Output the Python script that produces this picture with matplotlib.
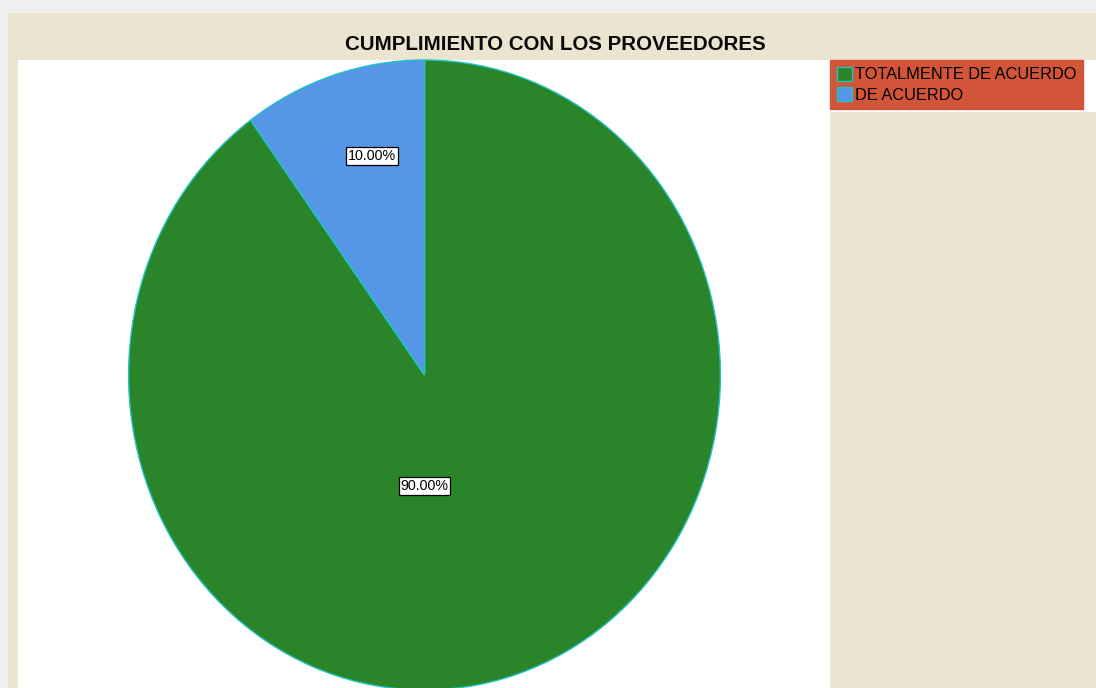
import matplotlib.pyplot as plt
from matplotlib.patches import Rectangle

# data
categorias = ['TOTALMENTE DE ACUERDO', 'DE ACUERDO']
porcentajes = [90.0, 10.0]
colores = ['#2A852A', '#5596E6']
titulo = 'CUMPLIMIENTO CON LOS PROVEEDORES'

plt.rcParams['font.family'] = ['Liberation Sans', 'DejaVu Sans']

W, H = 1096, 688
fig = plt.figure(figsize=(W / 100, H / 100), dpi=100, facecolor='#EFEFEF')

def px(x0, y0, x1, y1):
    # pixel box (top-left origin) -> figure fraction rect
    return [x0 / W, 1 - y1 / H, (x1 - x0) / W, (y1 - y0) / H]

# beige panel and white plot area
fig.patches.append(Rectangle((8 / W, 0), 1, 1 - 13 / H, transform=fig.transFigure,
                             facecolor='#EAE4D0', edgecolor='none', zorder=-3))
fig.patches.append(Rectangle((18 / W, 0), (830 - 18) / W, 1 - 60 / H, transform=fig.transFigure,
                             facecolor='white', edgecolor='none', zorder=-2))
fig.patches.append(Rectangle((830 / W, 1 - 112 / H), (W - 830) / W, 52 / H, transform=fig.transFigure,
                             facecolor='white', edgecolor='none', zorder=-2))

fig.text(555 / W, 1 - 44 / H, titulo, ha='center', va='center',
         fontsize=14.8, fontweight='bold', color='#0A0A0A')

ax = fig.add_axes(px(128, 60, 721, 690))
wedges, _, autotexts = ax.pie(porcentajes, colors=colores, startangle=90, counterclock=False,
                              autopct='%.2f%%', pctdistance=0.7,
                              wedgeprops=dict(edgecolor='#22C4C4', linewidth=1.0),
                              textprops=dict(fontsize=10.3, color='black'))
ax.set_aspect('auto')
ax.set_xlim(-1.002, 1.002)
ax.set_ylim(-1.0, 1.0)
ax.axis('off')

# label placement as in the original output
label_pos = [(0.0, -0.352), (-0.177, 0.695)]
for t, pos in zip(autotexts, label_pos):
    t.set_position(pos)
    t.set_ha('center')
    t.set_va('center')
    t.set_bbox(dict(facecolor='white', edgecolor='black', linewidth=0.9, pad=0.12, boxstyle='square'))

leg = fig.legend(wedges, categorias, loc='upper left', bbox_to_anchor=(830 / W, 1 - 60 / H),
                 frameon=True, fancybox=False, facecolor='#D2553A', edgecolor='#D2553A',
                 framealpha=1, fontsize=11.8, handlelength=0.95, handleheight=0.95,
                 handletextpad=0.2, borderpad=0.4, labelspacing=0.3, borderaxespad=0)
for h in leg.legend_handles:
    h.set_edgecolor('#22C4C4')

fig.savefig('out.png', dpi=100, facecolor=fig.get_facecolor())
